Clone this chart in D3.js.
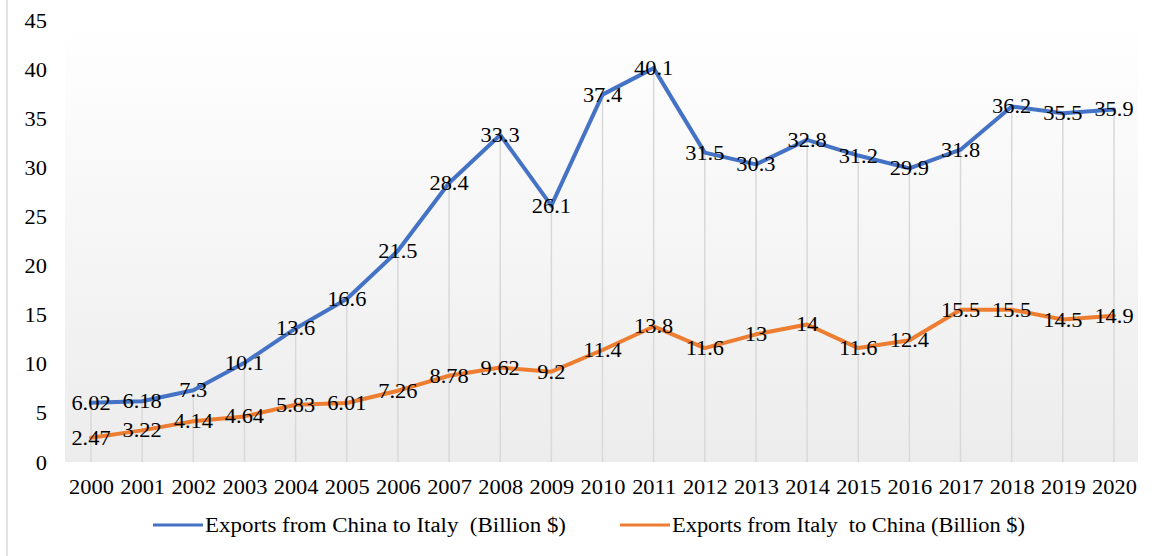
<!DOCTYPE html>
<html>
<head>
<meta charset="utf-8">
<script src="https://cdn.jsdelivr.net/npm/d3@7"></script>
<style>
    body { margin: 0; background: #fff; }
    text { white-space: pre; }
</style>
</head>
<body>
<svg id="chart" width="1157" height="556" font-family="'Liberation Serif', 'Times New Roman', serif"></svg>
<script>

const years = [2000, 2001, 2002, 2003, 2004, 2005, 2006, 2007, 2008, 2009, 2010,
    2011, 2012, 2013, 2014, 2015, 2016, 2017, 2018, 2019, 2020];
const chinaToItaly = [6.02, 6.18, 7.3, 10.1, 13.6, 16.6, 21.5, 28.4, 33.3, 26.1, 37.4,
    40.1, 31.5, 30.3, 32.8, 31.2, 29.9, 31.8, 36.2, 35.5, 35.9];
const italyToChina = [2.47, 3.22, 4.14, 4.64, 5.83, 6.01, 7.26, 8.78, 9.62, 9.2, 11.4,
    13.8, 11.6, 13, 14, 11.6, 12.4, 15.5, 15.5, 14.5, 14.9];
const yTicks = [0, 5, 10, 15, 20, 25, 30, 35, 40, 45];
const seriesNames = ["Exports from China to Italy  (Billion $)", "Exports from Italy  to China (Billion $)"];

const colors = { blue: "#4472c4", orange: "#ed7d31", grid: "#d9d9d9" };
const serif = "'Liberation Serif', 'Times New Roman', serif";
const stretch = 1.12;

const svg = d3.select("#chart");

const x = d3.scalePoint().domain(years).range([91, 1114]);
const y = d3.scaleLinear().domain([0, 45]).range([462, 20]);

// Background ///////////////////////////////

const defs = svg.append("defs");
const grad = defs.append("linearGradient")
    .attr("id", "bg")
    .attr("x1", 0).attr("y1", 0).attr("x2", 0).attr("y2", 1);
grad.append("stop").attr("offset", "0%").attr("stop-color", "#ffffff");
grad.append("stop").attr("offset", "100%").attr("stop-color", "#ececec");

svg.append("rect")
    .attr("x", 65)
    .attr("y", y(45))
    .attr("width", 1138 - 65)
    .attr("height", y(0) - y(45))
    .attr("fill", "url(#bg)");

svg.append("line")
    .attr("x1", 7).attr("x2", 7)
    .attr("y1", 0).attr("y2", 556)
    .attr("stroke", "#d9d9d9")
    .attr("stroke-width", 1.5);

// Drop lines ///////////////////////////////

svg.append("g")
    .selectAll("line")
    .data(years)
    .join("line")
    .attr("x1", d => x(d))
    .attr("x2", d => x(d))
    .attr("y1", (d, i) => y(Math.max(chinaToItaly[i], italyToChina[i])))
    .attr("y2", y(0))
    .attr("stroke", colors.grid)
    .attr("stroke-width", 1.5);

// Axes /////////////////////////////////////

const yAxis = svg.append("g")
    .attr("transform", "translate(47,0)")
    .call(d3.axisLeft(y).tickValues(yTicks).tickSize(0).tickPadding(0))
    .attr("font-family", serif)
    .attr("font-size", 20);
yAxis.select(".domain").remove();
yAxis.selectAll("text")
    .attr("fill", "#000")
    .attr("dy", "0.35em")
    .attr("transform", `scale(${stretch},1)`)
    .attr("x", 0);

const xAxis = svg.append("g")
    .attr("transform", `translate(0,${y(0)})`)
    .call(d3.axisBottom(x).tickSize(0).tickPadding(0))
    .attr("font-family", serif)
    .attr("font-size", 20);
xAxis.select(".domain").remove();
xAxis.selectAll("text")
    .attr("fill", "#000")
    .attr("y", 25)
    .attr("dy", "0.35em")
    .attr("transform", `scale(${stretch},1)`);

// Lines ////////////////////////////////////

const line = d3.line()
    .x((d, i) => x(years[i]))
    .y(d => y(d));

const series = [
    { values: chinaToItaly, color: colors.blue },
    { values: italyToChina, color: colors.orange }
];

series.forEach(s => {
    svg.append("path")
        .datum(s.values)
        .attr("d", line)
        .attr("fill", "none")
        .attr("stroke", s.color)
        .attr("stroke-width", 4)
        .attr("stroke-linejoin", "round")
        .attr("stroke-linecap", "round");
});

// Data labels //////////////////////////////

series.forEach(s => {
    svg.append("g")
        .selectAll("text")
        .data(s.values)
        .join("text")
        .attr("transform", (d, i) => `translate(${x(years[i])},${y(d)}) scale(${stretch},1)`)
        .attr("text-anchor", "middle")
        .attr("dy", "0.35em")
        .attr("font-size", 20)
        .attr("fill", "#000")
        .text(d => d);
});

// Legend ///////////////////////////////////

const legendItems = [
    { name: seriesNames[0], color: colors.blue, x: 153, len: 361 },
    { name: seriesNames[1], color: colors.orange, x: 620, len: 353 }
];

const legend = svg.append("g").attr("transform", "translate(0,525)");
legendItems.forEach(item => {
    legend.append("line")
        .attr("x1", item.x).attr("x2", item.x + 50)
        .attr("y1", 0).attr("y2", 0)
        .attr("stroke", item.color)
        .attr("stroke-width", 3);
    legend.append("text")
        .attr("x", item.x + 52)
        .attr("dy", "0.35em")
        .attr("font-size", 20)
        .attr("fill", "#000")
        .attr("textLength", item.len)
        .attr("lengthAdjust", "spacingAndGlyphs")
        .text(item.name);
});

</script>
</body>
</html>
